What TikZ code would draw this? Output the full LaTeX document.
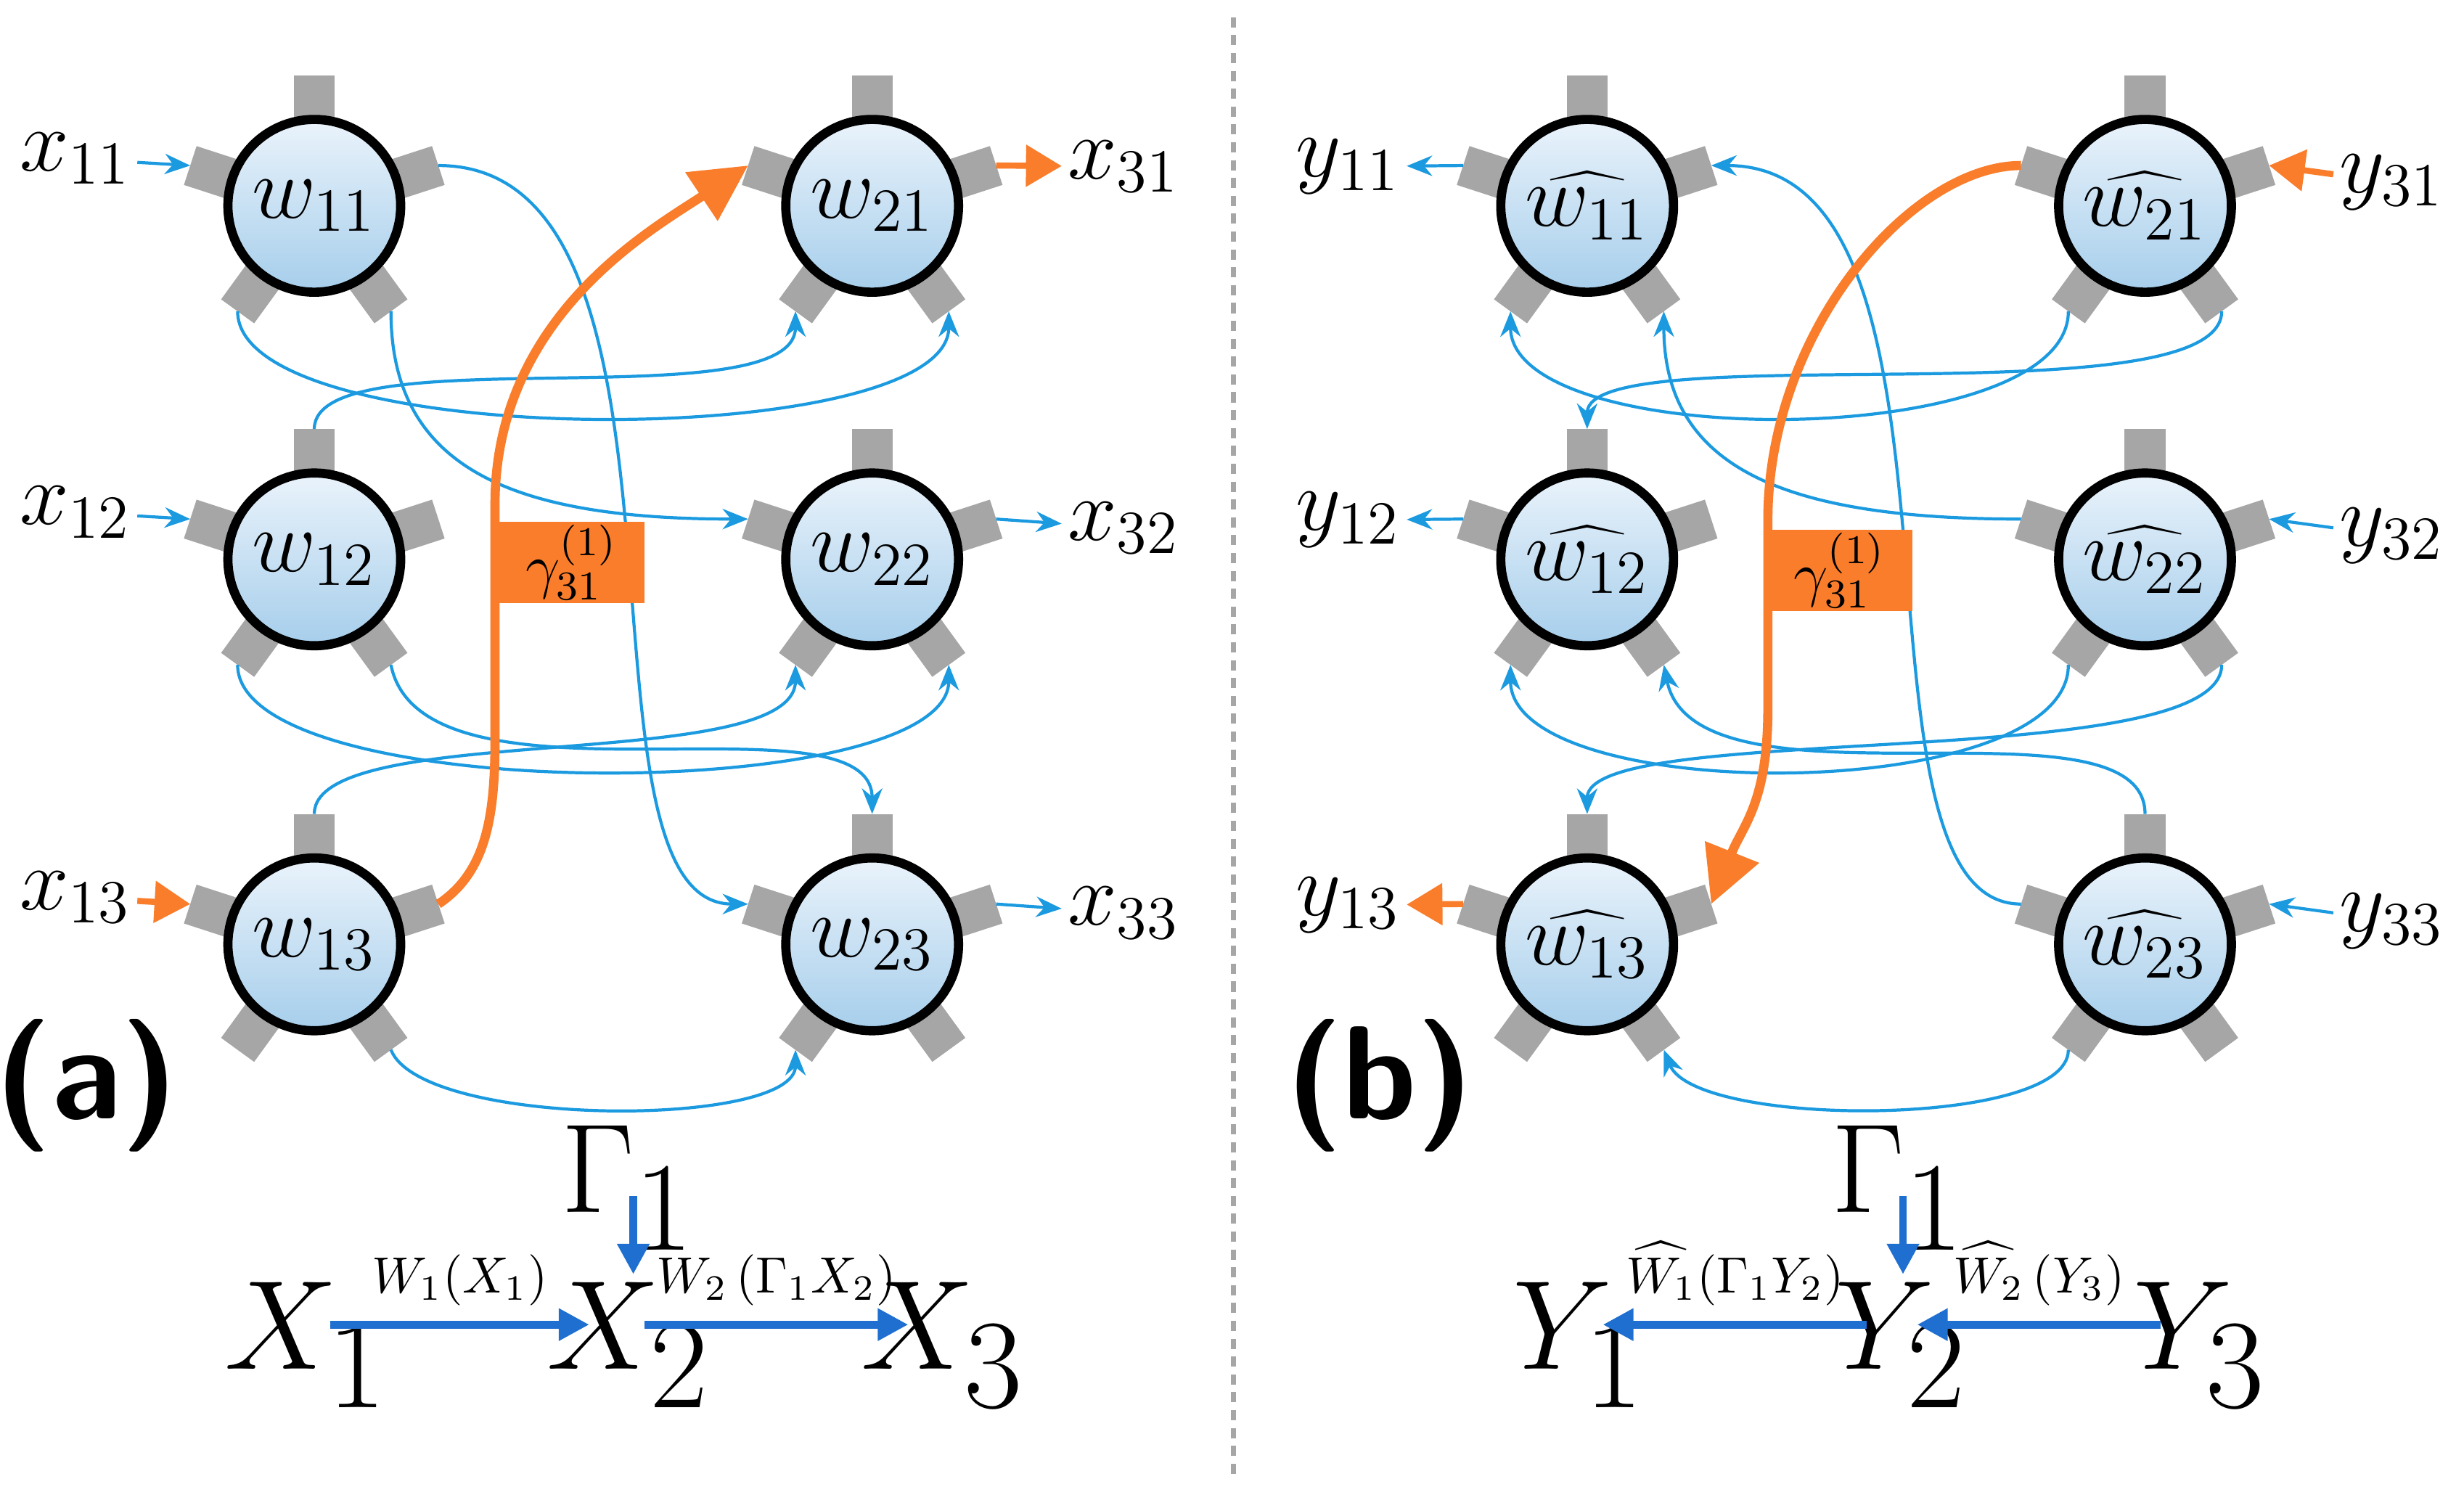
\documentclass[tikz,border=0pt]{standalone}
\usetikzlibrary{calc,arrows.meta}
\definecolor{linkblue}{HTML}{1B9AE0}
\definecolor{flowblue}{HTML}{1F6FD0}
\definecolor{hot}{HTML}{F97D2B}
\definecolor{pingray}{HTML}{A6A6A6}
\definecolor{cellA}{HTML}{EAF3FB}
\definecolor{cellB}{HTML}{A6CEEB}
\tikzset{
  unit/.style={circle,draw,line width=1.8pt,top color=cellA,bottom color=cellB,
    minimum size=1.19cm,inner sep=0pt,font=\fontsize{18}{20}\selectfont},
  pin/.style={fill=pingray},
  lab/.style={font=\fontsize{17}{20}\selectfont,inner sep=1pt},
  link/.style={linkblue,line width=0.6pt,-{Stealth[length=5pt,width=4pt]}},
  hotlink/.style={hot,line width=1.8pt,-{Triangle[length=11pt,width=11pt]}},
  flow/.style={flowblue,line width=1.5pt,-{Triangle[length=6pt,width=6pt]}},
  big/.style={font=\fontsize{24}{28}\selectfont,inner sep=1pt},
  small/.style={font=\fontsize{10}{12}\selectfont,inner sep=1pt,text=black},
  gbox/.style={fill=hot,minimum width=1.0cm,minimum height=0.56cm,inner sep=0pt,
    font=\fontsize{12}{14}\selectfont},
}
% one cell: name, x, y, text
\newcommand{\cell}[4]{%
  \foreach \a in {90,18,162,234,306}{
    \fill[pin,rotate around={\a:(#2,#3)}] (#2+4,#3-1.3) rectangle (#2+8.3,#3+1.3);
    \coordinate (#1-\a) at ($(#2,#3)+(\a:8.3)$);
  }
  \node[unit] (#1) at (#2,#3) {#4};
}
\begin{document}
\begin{tikzpicture}[x=0.10825cm,y=0.10825cm]
  \useasboundingbox (0,0) rectangle (156.8,95.1);
  % divider
  \draw[pingray,line width=1pt,dash pattern=on 2pt off 1.5pt] (78.5,94) -- (78.5,1);

  % (a) forward net
  \cell{a11}{20}{82}{$w_{11}$}
  \cell{a12}{20}{59.5}{$w_{12}$}
  \cell{a13}{20}{35}{$w_{13}$}
  \cell{a21}{55.5}{82}{$w_{21}$}
  \cell{a22}{55.5}{59.5}{$w_{22}$}
  \cell{a23}{55.5}{35}{$w_{23}$}
  \node[lab] (x11) at (4.8,85) {$x_{11}$};
  \node[lab] (x12) at (4.8,62.5) {$x_{12}$};
  \node[lab] (x13) at (4.8,38) {$x_{13}$};
  \node[lab] (x31) at (71.5,84.5) {$x_{31}$};
  \node[lab] (x32) at (71.5,61.5) {$x_{32}$};
  \node[lab] (x33) at (71.5,37) {$x_{33}$};
  \draw[link] (x11) -- (a11-162);
  \draw[link] (x12) -- (a12-162);
  \draw[hotlink,line width=1.2pt,-{Triangle[length=7pt,width=8pt]}] (x13) -- (a13-162);
  \draw[hotlink,line width=1.2pt,-{Triangle[length=7pt,width=8pt]}] (a21-18) -- (x31);
  \draw[link] (a22-18) -- (x32);
  \draw[link] (a23-18) -- (x33);
  \draw[link] (a11-18) .. controls +(18,0) and +(-12,0) .. (a23-162);
  \draw[link] (a11-234) .. controls +(0,-9) and +(0,-9) .. (a21-306);
  \draw[link] (a11-306) .. controls +(0,-10) and +(-15,0) .. (a22-162);
  \draw[link] (a12-90) .. controls +(0,6) and +(0,-7) .. (a21-234);
  \draw[link] (a12-234) .. controls +(0,-9) and +(0,-9) .. (a22-306);
  \draw[link] (a12-306) .. controls +(2,-10) and +(0,8) .. (a23-90);
  \draw[link] (a13-90) .. controls +(0,6) and +(0,-7) .. (a22-234);
  \draw[link] (a13-306) .. controls +(2,-5) and +(0,-5) .. (a23-234);
  \draw[hotlink] (a13-18) .. controls +(3,2) and +(0,-5) .. (31.5,48) -- (31.5,63)
    .. controls +(0,12) and +(-6,-4) .. (a21-162);
  \node[gbox,anchor=west] (ga) at (31.7,59.3) {$\gamma^{(1)}_{31}$};
  \node[font=\sffamily\bfseries\fontsize{26}{30}\selectfont] (la) at (5.5,26) {(a)};
  % (a) chain
  \node[big] (G1) at (40,19.5) {$\Gamma_{\textstyle 1}$};
  \node[big] (X1) at (19.5,9.5) {$X_{\textstyle 1}$};
  \node[big] (X2) at (40,9.5) {$X_{\textstyle 2}$};
  \node[big] (X3) at (60,9.5) {$X_{\textstyle 3}$};
  \draw[flow] ($(G1)+(0.3,-0.5)$) -- ($(G1)+(0.3,-5.5)$);
  \draw[flow] ($(X1)+(1.5,1.3)$) -- ($(X2)+(-2.5,1.3)$) node[small,midway,above=2pt] {$W_1(X_1)$};
  \draw[flow] ($(X2)+(1,1.3)$) -- ($(X3)+(-2.2,1.3)$) node[small,midway,above=2pt] {$W_2\,(\Gamma_1X_2)$};

  % (b) backward net
  \cell{b11}{101}{82}{$\widehat{w_{11}}$}
  \cell{b12}{101}{59.5}{$\widehat{w_{12}}$}
  \cell{b13}{101}{35}{$\widehat{w_{13}}$}
  \cell{b21}{136.5}{82}{$\widehat{w_{21}}$}
  \cell{b22}{136.5}{59.5}{$\widehat{w_{22}}$}
  \cell{b23}{136.5}{35}{$\widehat{w_{23}}$}
  \node[lab] (y11) at (85.8,84.5) {$y_{11}$};
  \node[lab] (y12) at (85.8,62) {$y_{12}$};
  \node[lab] (y13) at (85.8,37.5) {$y_{13}$};
  \node[lab] (y31) at (152.2,83.5) {$y_{31}$};
  \node[lab] (y32) at (152.2,61) {$y_{32}$};
  \node[lab] (y33) at (152.2,36.5) {$y_{33}$};
  \draw[link] (b11-162) -- (y11);
  \draw[link] (b12-162) -- (y12);
  \draw[hotlink,line width=1.2pt,-{Triangle[length=7pt,width=8pt]}] (b13-162) -- (y13);
  \draw[hotlink,line width=1.2pt,-{Triangle[length=7pt,width=8pt]}] (y31) -- (b21-18);
  \draw[link] (y32) -- (b22-18);
  \draw[link] (y33) -- (b23-18);
  \draw[link] (b23-162) .. controls +(-12,0) and +(18,0) .. (b11-18);
  \draw[link] (b21-234) .. controls +(0,-9) and +(0,-9) .. (b11-234);
  \draw[link] (b21-306) .. controls +(0,-7) and +(0,6) .. (b12-90);
  \draw[link] (b22-162) .. controls +(-15,0) and +(0,-10) .. (b11-306);
  \draw[link] (b22-234) .. controls +(0,-9) and +(0,-9) .. (b12-234);
  \draw[link] (b22-306) .. controls +(0,-7) and +(0,6) .. (b13-90);
  \draw[link] (b23-90) .. controls +(0,8) and +(2,-10) .. (b12-306);
  \draw[link] (b23-234) .. controls +(0,-5) and +(2,-5) .. (b13-306);
  \draw[hotlink] (b21-162) .. controls +(-7,0) and +(0,12) .. (112.5,62) -- (112.5,50)
    .. controls +(0,-6) and +(2,5) .. (b13-18);
  \node[gbox,anchor=west] (gb) at (112.4,58.8) {$\gamma^{(1)}_{31}$};
  \node[font=\sffamily\bfseries\fontsize{26}{30}\selectfont] (lb) at (87.8,26) {(b)};
  % (b) chain
  \node[big] (G2) at (120.8,19.5) {$\Gamma_{\textstyle 1}$};
  \node[big] (Y1) at (100.5,9.5) {$Y_{\textstyle 1}$};
  \node[big] (Y2) at (121,9.5) {$Y_{\textstyle 2}$};
  \node[big] (Y3) at (140,9.5) {$Y_{\textstyle 3}$};
  \draw[flow] ($(G2)+(0.3,-0.5)$) -- ($(G2)+(0.3,-5.5)$);
  \draw[flow] ($(Y2)+(-2.2,1.3)$) -- ($(Y1)+(1.5,1.3)$) node[small,midway,above=2pt] {$\widehat{W_1}(\Gamma_1Y_2)$};
  \draw[flow] ($(Y3)+(-2.5,1.3)$) -- ($(Y2)+(1,1.3)$) node[small,midway,above=2pt] {$\widehat{W_2}\,(Y_3)$};
\end{tikzpicture}
\end{document}
